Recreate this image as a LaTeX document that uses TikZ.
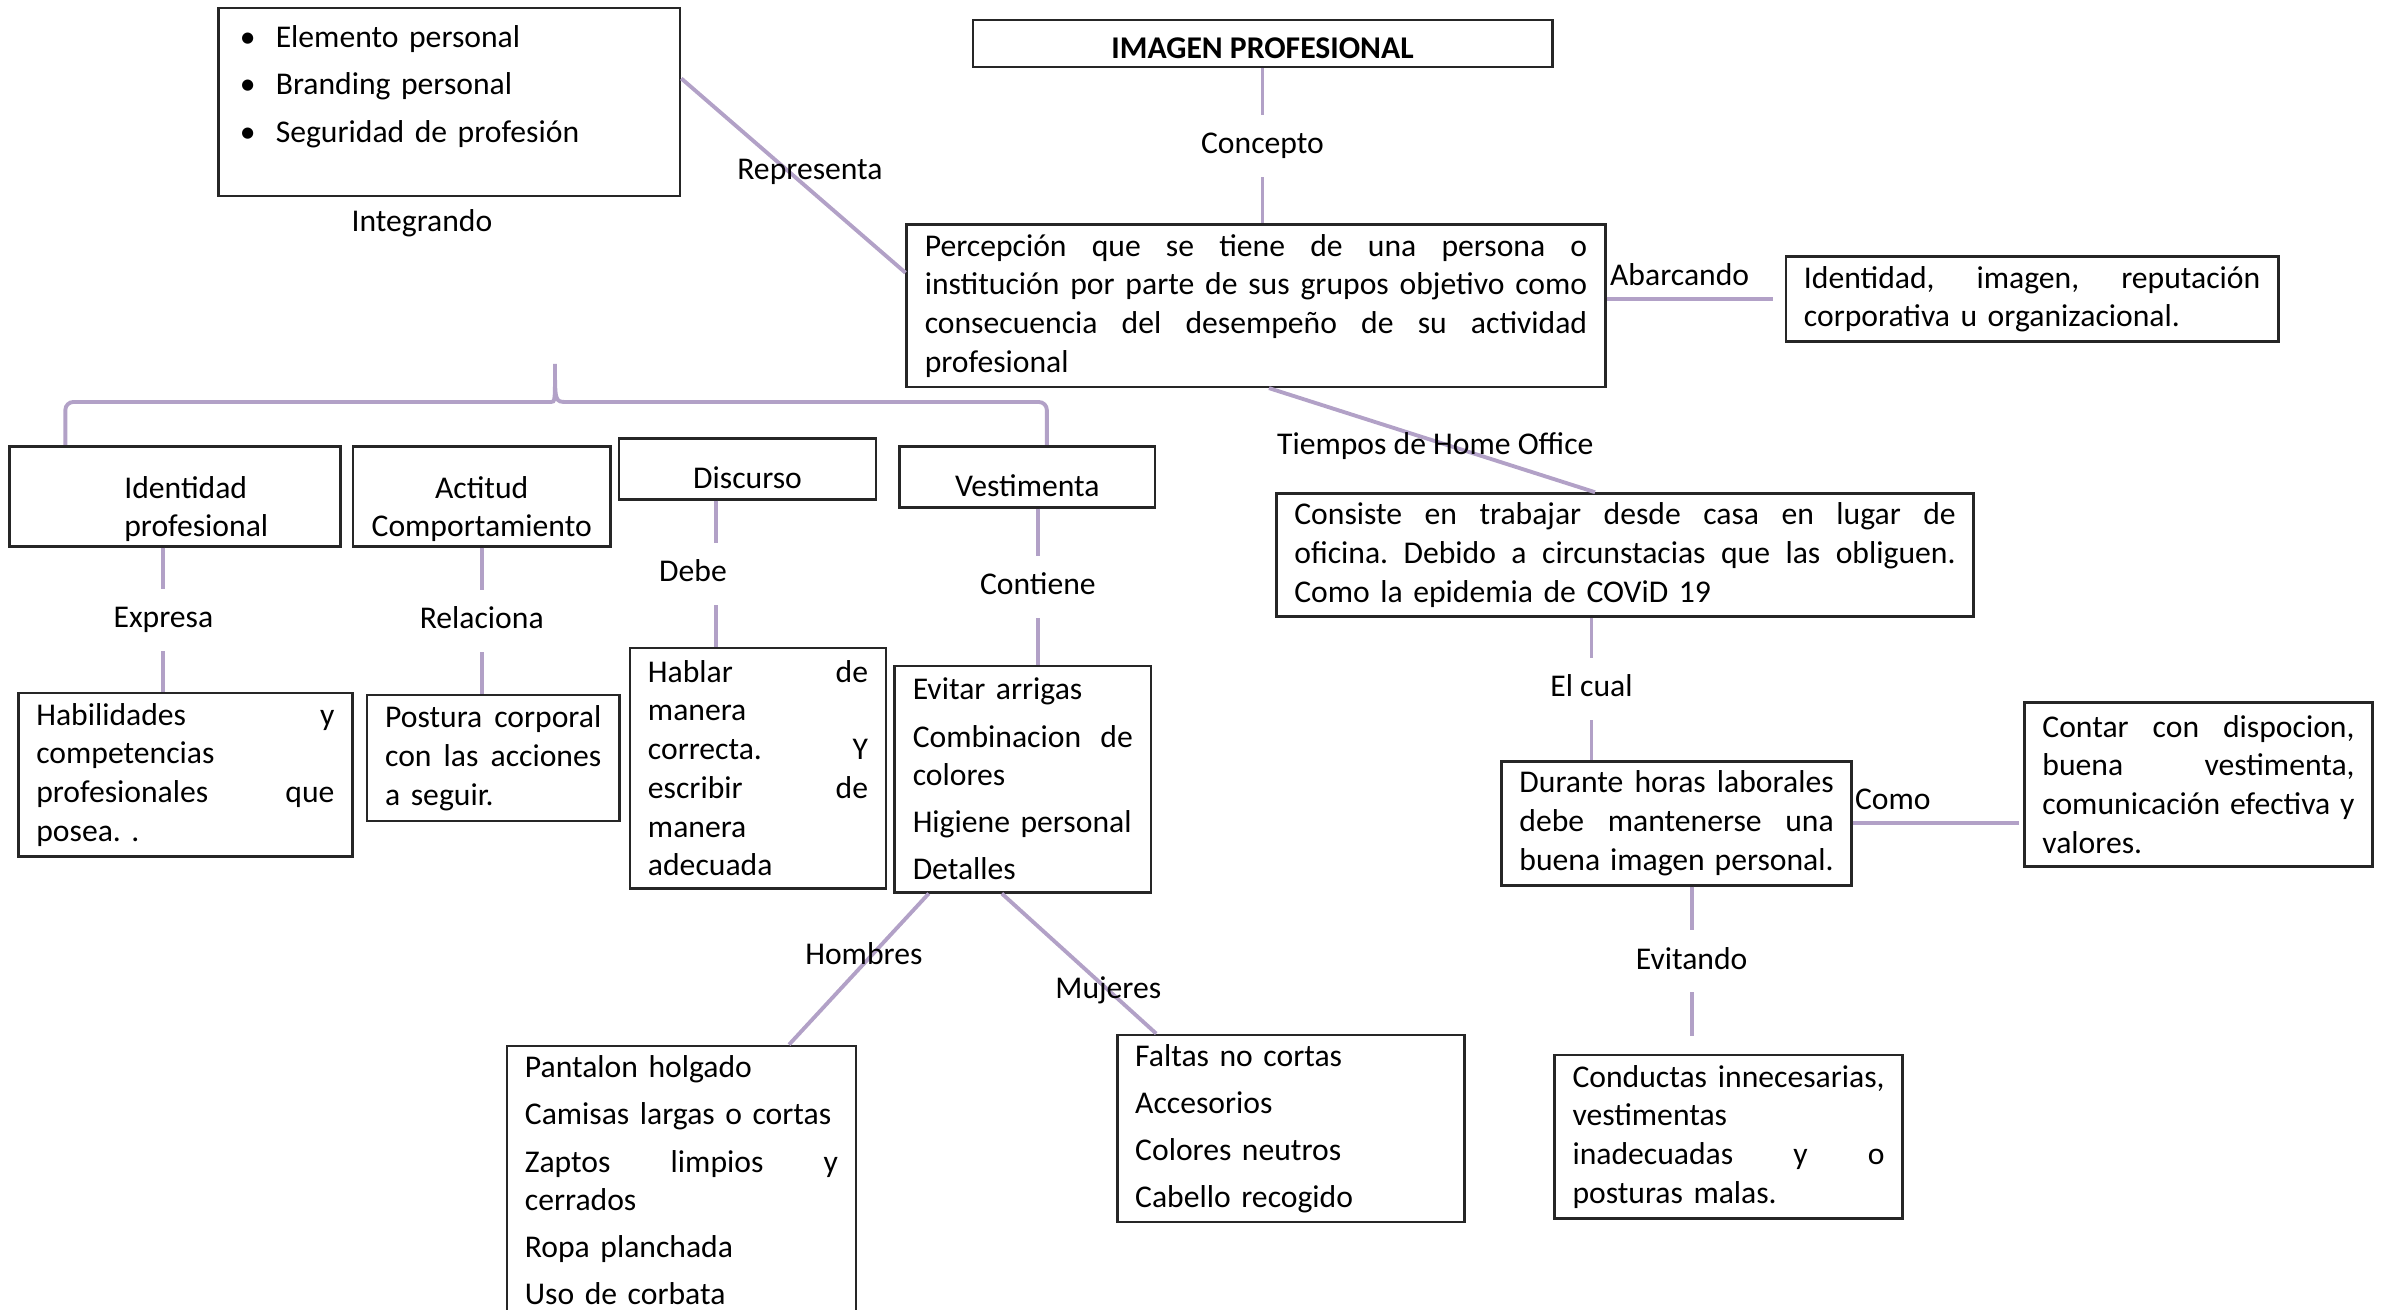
\documentclass[tikz,border=0pt]{standalone}
\usepackage{fontspec}
\setmainfont{Carlito}
\usetikzlibrary{positioning}
\definecolor{lila}{RGB}{178,161,199}
\newcommand{\anchojust}{0pt}
\newcommand{\justline}[1]{\makebox[\anchojust][s]{\spaceskip=0pt\relax\xspaceskip=0pt\relax #1}}
\newcommand{\vineta}{\hspace*{0.03cm}\makebox[0.36cm][l]{\textbullet}}

\begin{document}
\begin{tikzpicture}[
    x=0.01cm, y=-0.01cm,
    font=\fontsize{9}{11}\selectfont\frenchspacing,
    caja/.style={rectangle, draw=black!85, line width=0.75pt,
                 inner xsep=0.18cm, inner ysep=0.08cm, align=left},
    ancho/.style={text width=#1, execute at begin node={\def\anchojust{#1}}},
    tit/.style={caja, align=center, text height=11pt, text depth=0pt},
    link/.style={draw=lila, line width=1.1pt},
    lbl/.style={fill=white, inner xsep=1pt, inner ysep=4.6pt,
                text height=6.5pt, text depth=2pt}]
  \useasboundingbox (0,0) rectangle (2381,1310);

  % centro
  \node[caja, align=center, minimum width=5.79cm, minimum height=0.47cm, inner ysep=0pt,
        text height=8.6pt, text depth=0pt,
        font=\fontsize{9}{11}\selectfont\bfseries] (titulo) at (1262.5,43.5) {IMAGEN PROFESIONAL};
  \node[caja, ancho=6.62cm, minimum height=1.62cm] (percep) [below=1.55cm of titulo, xshift=-0.065cm]
    {\justline{Percepción que se tiene de una persona o}\\
     \justline{institución por parte de sus grupos objetivo como}\\
     \justline{consecuencia del desempeño de su actividad}\\
     profesional};
  \node[caja, ancho=4.25cm, inner ysep=1mm, text height=8.5pt, text depth=39.3pt]
    (rasgos) [above left=0.26cm and 2.24cm of percep.north west]
    {\vineta Elemento personal\\[2.4pt]
     \vineta Branding personal\\[2.4pt]
     \vineta Seguridad de profesión};
  \node (integ) [below=0pt of rasgos, xshift=-0.275cm] {Integrando};
  \node[caja, ancho=4.56cm, minimum height=0.85cm] (abarca) [right=1.78cm of percep, yshift=0.065cm]
    {\justline{Identidad, imagen, reputación}\\ corporativa u organizacional.};

  % home office
  \node[caja, ancho=6.61cm, minimum height=1.23cm] (consiste) [below right=1.04cm and 0.19cm of percep.south]
    {\justline{Consiste en trabajar desde casa en lugar de}\\
     \justline{oficina. Debido a circunstacias que las obliguen.}\\
     Como la epidemia de COViD 19};
  \node[caja, ancho=3.14cm, minimum height=1.24cm] (durante) [below right=1.42cm and 2.25cm of consiste.south west]
    {\justline{Durante horas laborales}\\ \justline{debe mantenerse una}\\ \justline{buena imagen personal.}};
  \node[caja, ancho=3.12cm, minimum height=1.64cm] (contar) [right=1.70cm of durante, yshift=0.39cm]
    {\justline{Contar con dispocion,}\\ \justline{buena vestimenta,}\\ \justline{comunicación efectiva y}\\ valores.};
  \node[caja, ancho=3.12cm, minimum height=1.63cm] (conductas) [below=1.67cm of durante, xshift=0.52cm]
    {\justline{Conductas innecesarias,}\\ vestimentas\\ \justline{inadecuadas y o}\\ posturas malas.};

  % rama izquierda
  \node[caja, ancho=2.95cm, minimum height=1cm, inner ysep=0pt, text height=13.4pt, anchor=north west] (idprof) at (8,445)
    {\hspace*{0.97cm}Identidad\\ \hspace*{0.97cm}profesional};
  \node[caja, ancho=2.21cm, align=center, minimum height=1cm, inner ysep=0pt, text height=13.4pt] (actitud) [right=0.10cm of idprof]
    {Actitud\\ \mbox{Comportamiento}};
  \node[tit, minimum width=2.57cm, minimum height=0.61cm] (discurso) [right=0.06cm of actitud, yshift=0.275cm] {Discurso};
  \node[tit, minimum width=2.55cm, minimum height=0.61cm] (vestimenta) [right=0.21cm of discurso, yshift=-0.08cm] {Vestimenta};

  \node[caja, ancho=2.98cm, minimum height=1.63cm] (habil) [below right=1.44cm and 0.09cm of idprof.south west]
    {\justline{Habilidades y}\\ competencias\\ \justline{profesionales que}\\ posea. .};
  \node[caja, ancho=2.16cm, minimum height=1.26cm] (postura) [below right=1.46cm and 0.14cm of actitud.south west]
    {\justline{Postura corporal}\\ \justline{con las acciones}\\ a seguir.};
  \node[caja, ancho=2.20cm, minimum height=2.40cm] (hablar) [below right=1.46cm and 0.11cm of discurso.south west]
    {\justline{Hablar de}\\ manera\\ \justline{correcta. Y}\\ \justline{escribir de}\\ manera\\ adecuada};
  \node[caja, ancho=2.20cm, minimum height=2.26cm] (evitar) [below=1.56cm of vestimenta, xshift=-0.045cm]
    {Evitar arrigas\\[2.4pt] \justline{Combinacion de}\\ colores\\[2.4pt] \mbox{Higiene personal}\\[2.4pt] Detalles};
  \node[caja, ancho=3.13cm, minimum height=2.69cm, inner ysep=0.04cm] (pantalon) [below left=1.51cm and 0.36cm of evitar.south west]
    {Pantalon holgado\\[2.4pt] Camisas largas o cortas\\[2.4pt] \justline{Zaptos limpios y}\\ cerrados\\[2.4pt] Ropa planchada\\[2.4pt] Uso de corbata};
  \node[caja, ancho=3.11cm, minimum height=1.87cm] (faltas) [below right=1.40cm and 0.93cm of evitar.south]
    {Faltas no cortas\\[2.4pt] Accesorios\\[2.4pt] Colores neutros\\[2.4pt] Cabello recogido};

  % conectores
  \draw[link] (titulo.south) -- node[lbl] (conc) {Concepto} (titulo.south |- percep.north);
  \draw[link] ([yshift=0.235cm]rasgos.east) -- node[pos=0.48, xshift=0.21cm] (repr) {Representa} ([yshift=0.33cm]percep.west);
  \draw[link] (percep.east |- abarca.west) -- node[above, pos=0.44] (abar) {Abarcando} ([xshift=-0.12cm]abarca.west);
  \draw[link] ([xshift=0.13cm]percep.south) -- node[pos=0.51, yshift=-0.05cm] (home) {Tiempos de Home Office} ([xshift=-0.3cm]consiste.north);
  \draw[link] ([xshift=-0.335cm]consiste.south) -- node[lbl] (cual) {El cual} ([xshift=-0.335cm]consiste.south |- durante.north);
  \draw[link] (durante.east) -- node[above, pos=0.24] (como) {Como} ([xshift=-0.04cm]durante.east -| contar.west);
  \draw[link] ([xshift=0.15cm]durante.south) -- node[lbl] (evit) {Evitando} ([xshift=0.15cm, yshift=0.18cm]durante.south |- conductas.north);

  \coordinate (cima) at (555,364);
  \coordinate (llave) at (555,402);
  \draw[link, rounded corners=0.08cm] ([xshift=-1.095cm]idprof.north) |- ([xshift=-0.12cm]llave)
      [sharp corners] .. controls (llave) .. (cima) .. controls (llave) .. ([xshift=0.12cm]llave)
      [rounded corners=0.08cm] -| ([xshift=0.195cm]vestimenta.north);

  \draw[link] ([xshift=-0.115cm]idprof.south) -- node[lbl] (expr) {Expresa} ([xshift=-0.115cm]idprof.south |- habil.north);
  \draw[link] (actitud.south) -- node[lbl] (rel) {Relaciona} (actitud.south |- postura.north);
  \draw[link] ([xshift=-0.315cm]discurso.south) -- node[lbl, xshift=-0.23cm] (debe) {Debe} ([xshift=-0.315cm]discurso.south |- hablar.north);
  \draw[link] ([xshift=0.105cm]vestimenta.south) -- node[lbl] (cont) {Contiene} ([xshift=0.105cm]vestimenta.south |- evitar.north);
  \draw[link] ([xshift=-0.94cm]evitar.south) -- node[pos=0.4, xshift=-0.09cm] (homb) {Hombres} ([xshift=1.075cm]pantalon.north);
  \draw[link] ([xshift=-0.21cm]evitar.south) -- node[pos=0.69] (muj) {Mujeres} ([xshift=-1.345cm]faltas.north);
\end{tikzpicture}
\end{document}
